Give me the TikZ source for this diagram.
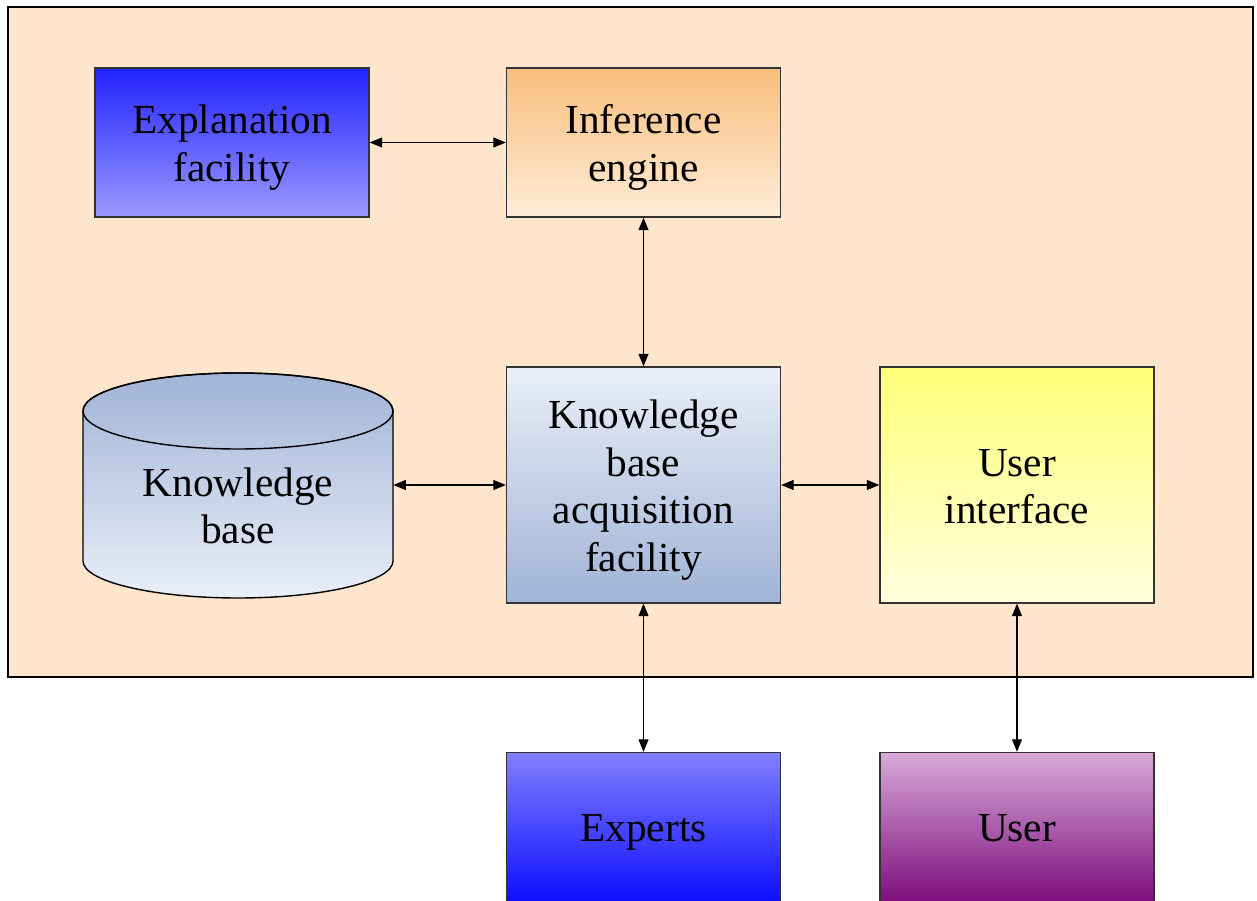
\documentclass[tikz,border=0pt]{standalone}
\usepackage{fontspec}
\setmainfont{Liberation Serif}
\usetikzlibrary{arrows.meta}

\definecolor{panel}{RGB}{255,229,204}
\definecolor{explTop}{RGB}{34,34,255}
\definecolor{explBot}{RGB}{154,154,255}
\definecolor{infTop}{RGB}{248,190,124}
\definecolor{infBot}{RGB}{255,236,216}
\definecolor{kbDark}{RGB}{160,180,214}
\definecolor{kbLight}{RGB}{234,238,248}
\definecolor{uiTop}{RGB}{255,255,120}
\definecolor{uiBot}{RGB}{255,255,222}
\definecolor{expTop}{RGB}{128,128,255}
\definecolor{expBot}{RGB}{14,14,255}
\definecolor{usrTop}{RGB}{216,170,216}
\definecolor{usrBot}{RGB}{126,14,126}

% fixed first-line height and last-line depth, so every label sits the same way in its box
\newcommand{\topstrut}{\rule{0pt}{23pt}}
\newcommand{\botstrut}{\rule[-6pt]{0pt}{6pt}}

\tikzset{
  px/.style={x=0.02cm,y=-0.02cm},
  label text/.style={align=center, inner sep=0pt,
    font=\fontsize{23.5}{27}\selectfont},
  block/.style={label text, draw=black!80, line width=0.8pt, minimum width=5.48cm},
  tall/.style={block, minimum height=4.72cm},
  short/.style={block, minimum height=2.98cm},
  link/.style={line width=0.6pt, {Triangle[length=0.25cm,width=0.2cm]}-{Triangle[length=0.25cm,width=0.2cm]}},
}

\begin{document}
\begin{tikzpicture}[px]
  \useasboundingbox (0,0) rectangle (1257,901);

  % system boundary
  \draw[black, line width=0.9pt, fill=panel] (8,7) rectangle (1253,677);

  % knowledge base drum
  \shade[top color=kbDark, bottom color=kbLight, draw=black, line width=0.8pt]
    (83,411) -- (83,561) arc[start angle=180, end angle=360, x radius=155, y radius=-37]
    -- (393,411) arc[start angle=0, end angle=180, x radius=155, y radius=-38] -- cycle;
  \draw[black, line width=0.8pt] (238,411) ellipse[x radius=155, y radius=38];

  % components
  \node[short, top color=explTop, bottom color=explBot] (expl) at (232,142.5)
    {\topstrut Explanation\\facility\botstrut};
  \node[short, top color=infTop, bottom color=infBot] (inf) at (643.5,142.5)
    {\topstrut Inference\\engine\botstrut};
  \node[tall, top color=kbLight, bottom color=kbDark] (kbaf) at (643.5,485)
    {\topstrut Knowledge\\base\\acquisition\\facility\botstrut};
  \node[tall, top color=uiTop, bottom color=uiBot] (ui) at (1017,485)
    {\topstrut User\\interface\botstrut};
  \node[label text, minimum width=6.2cm] (kb) at (238,505)
    {\topstrut Knowledge\\base\botstrut};
  \node[short, top color=expTop, bottom color=expBot] (exp) at (643.5,827)
    {\topstrut Experts\botstrut};
  \node[short, top color=usrTop, bottom color=usrBot] (usr) at (1017,827)
    {\topstrut User\botstrut};

  % connections
  \draw[link] (expl.east) -- (inf.west);
  \draw[link] (inf.south) -- (kbaf.north);
  \draw[link] (kbaf.west -| kb.east) -- (kbaf.west);
  \draw[link] (kbaf.east) -- (ui.west);
  \draw[link] (kbaf.south) -- (exp.north);
  \draw[link] (ui.south) -- (usr.north);
\end{tikzpicture}
\end{document}
